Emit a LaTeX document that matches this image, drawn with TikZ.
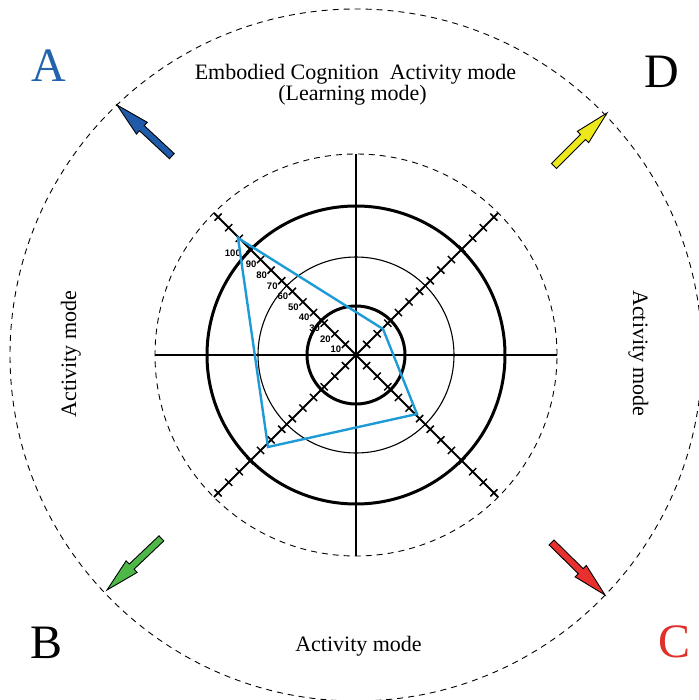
\documentclass[tikz,border=0pt]{standalone}
\usepackage{fontspec}
\setmainfont{Liberation Serif}
\newfontfamily\numfont{Liberation Sans}
\definecolor{polyblue}{HTML}{1E9BD7}
\definecolor{arrowblue}{HTML}{1F5BA8}
\definecolor{arrowyellow}{HTML}{ECE81C}
\definecolor{arrowgreen}{HTML}{4DB848}
\definecolor{arrowred}{HTML}{E8302E}
\definecolor{letterblue}{HTML}{2363AE}
\definecolor{letterred}{HTML}{E0302A}
\begin{document}
\begin{tikzpicture}[x=1pt,y=-1pt,
  dashring/.style={draw=black,line width=0.9pt,dash pattern=on 6pt off 5pt},
  thickring/.style={draw=black,line width=3pt},
  thinring/.style={draw=black,line width=1.1pt},
  axisline/.style={draw=black,line width=2.4pt},
  diagline/.style={draw=black,line width=2pt},
  tickmark/.style={draw=black,line width=1.5pt},
  scalelabel/.style={font=\numfont\bfseries\fontsize{9.5}{9.5}\selectfont,inner sep=0pt,anchor=east},
  profile/.style={draw=polyblue,line width=2.4pt,line join=miter},
  modetext/.style={font=\fontsize{22}{22}\selectfont,inner sep=0pt,anchor=base},
  cornerletter/.style={font=\fontsize{48}{48}\selectfont,inner sep=0pt,anchor=base},
  blockarrow/.pic={
    \path[pic actions] (0,0) -- (-34,8) -- (-34,3.5) -- (-75,3.5)
      -- (-75,-3.5) -- (-34,-3.5) -- (-34,-8) -- cycle;
  },
  arrowpic/.style={draw=black,line width=0.9pt,line join=miter}]
\useasboundingbox (0,0) rectangle (698,700);
\coordinate (O) at (356,355);

% outer and inner dashed rings
\draw[dashring] (O) circle[radius=346pt];
\draw[dashring] (O) circle[radius=201pt];

% scale rings
\draw[thickring] (O) circle[radius=149pt];
\draw[thinring] (O) circle[radius=98pt];
\draw[thickring] (O) circle[radius=49pt];

\begin{scope}[shift={(O)}]
  % axes
  \draw[axisline] (-201,0) coordinate (W) -- (201,0) coordinate (E);
  \draw[axisline] (0,-201) coordinate (N) -- (0,201) coordinate (S);
  % diagonal scales
  \draw[diagline] (-142,-142) coordinate (NW) -- (142,142) coordinate (SE);
  \draw[diagline] (142,-142) coordinate (NE) -- (-142,142) coordinate (SW);
  \foreach \sx/\sy in {1/1,1/-1,-1/1,-1/-1}{
    \foreach \k in {1,...,13}{
      \draw[tickmark] ({\k*10.607*\sx-3.6*\sy},{\k*10.607*\sy+3.6*\sx})
        -- ({\k*10.607*\sx+3.6*\sy},{\k*10.607*\sy-3.6*\sx});
    }
  }
  % scale numbers on the upper-left arm
  \foreach \v [count=\k] in {10,20,...,90}{
    \node[scalelabel] (lab\v) at ({-\k*10.607-4},{-\k*10.607+5}) {\v};
  }
  \node[scalelabel] (lab100) at (-115,-102) {100};

  % profile polygon
  \coordinate (pNW) at (-118,-117);
  \coordinate (pNE) at (27,-26);
  \coordinate (pSE) at (61,59);
  \coordinate (pSW) at (-88,92);
  \draw[profile] (pNW) -- (pNE) -- (pSE) -- (pSW) -- cycle;
\end{scope}

% direction arrows
\pic[arrowpic,fill=arrowblue,rotate=137] (arrA) at (117,105) {blockarrow};
\pic[arrowpic,fill=arrowyellow,rotate=45] (arrD) at (607,113) {blockarrow};
\pic[arrowpic,fill=arrowgreen,rotate=223.5] (arrB) at (107,590) {blockarrow};
\pic[arrowpic,fill=arrowred,rotate=315.5] (arrC) at (605,595) {blockarrow};

% corner letters
\node[cornerletter,text=letterblue] (letA) at (49,82) {A};
\node[cornerletter] (letD) at (661.5,88) {D};
\node[cornerletter] (letB) at (47,658) {B};
\node[cornerletter,text=letterred] (letC) at (674,657) {C};

% mode captions
\node[modetext] (top1) at (355.5,80) {Embodied Cognition\ \ Activity mode};
\node[modetext] (top2) at (352.5,100.5) {(Learning mode)};
\node[modetext] (bottom) at (358.5,651.5) {Activity mode};
\node[modetext,rotate=90] (left) at (76,354) {Activity mode};
\node[modetext,rotate=-90] (right) at (633,353.5) {Activity mode};
\end{tikzpicture}
\end{document}
